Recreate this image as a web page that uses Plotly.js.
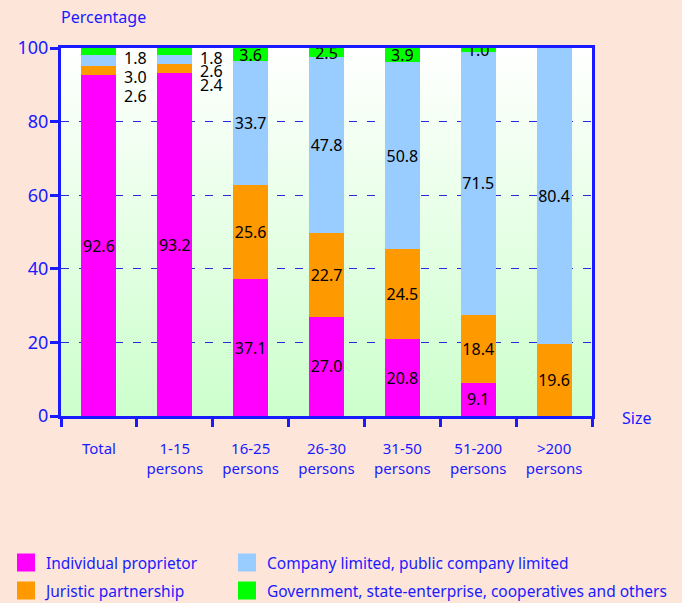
<!DOCTYPE html>
<html>
<head>
<meta charset="utf-8">
<script src="https://cdn.plot.ly/plotly-3.0.1.min.js"></script>
<style>html,body{margin:0;padding:0;background:#fde5da;}</style>
</head>
<body>
<div id="chart" style="width:682px;height:603px;"></div>
<script>
// ---- data ----
const categories = ['Total', '1-15<br>persons', '16-25<br>persons', '26-30<br>persons', '31-50<br>persons', '51-200<br>persons', '>200<br>persons'];
const individual = [92.6, 93.2, 37.1, 27.0, 20.8, 9.1, 0];
const juristic   = [2.6, 2.4, 25.6, 22.7, 24.5, 18.4, 19.6];
const company    = [3.0, 2.6, 33.7, 47.8, 50.8, 71.5, 80.4];
const government = [1.8, 1.8, 3.6, 2.5, 3.9, 1.0, 0];
const seriesNames = ['Individual proprietor', 'Juristic partnership', 'Company limited, public company limited', 'Government, state-enterprise, cooperatives and others'];
const yTicks = [0, 20, 40, 60, 80, 100];
// categories whose small segments are labelled beside the bar
const sideLabelCats = [0, 1];

const colors = ['#ff00ff', '#ff9900', '#99ccff', '#00ff00'];
const blue = '#1a1aff';
const font = 'Noto Sans, DejaVu Sans, sans-serif';

function labels(vals, small) {
  return vals.map((v, i) => (v === 0 || (small && sideLabelCats.includes(i))) ? '' : v.toFixed(1));
}

const seriesVals = [individual, juristic, company, government];
const legendIds = ['legend', 'legend3', 'legend2', 'legend4'];
const traces = seriesVals.map((vals, k) => ({
  type: 'bar',
  name: seriesNames[k],
  x: categories,
  y: vals,
  width: 0.46,
  marker: {color: colors[k], line: {width: 0}},
  text: labels(vals, k !== 0),
  textposition: 'inside',
  insidetextanchor: 'middle',
  constraintext: 'none',
  textangle: 0,
  textfont: {family: font, size: 16, color: '#000000'},
  hoverinfo: 'none',
  showlegend: false
}));
// legend entries (square swatches, no data drawn)
seriesNames.forEach((nm, k) => {
  traces.push({
    type: 'scatter', mode: 'markers', name: nm,
    x: [null], y: [null],
    marker: {symbol: 'square', size: 16, color: colors[k], line: {width: 2, color: colors[k]}},
    hoverinfo: 'none', showlegend: true, legend: legendIds[k]
  });
});

// side labels for small segments (top to bottom: government, company, juristic)
const annotations = [];
const sideShifts = {0: [-10, -29, -48], 1: [-10, -23, -37]};
sideLabelCats.forEach(ci => {
  [government, company, juristic].forEach((arr, j) => {
    annotations.push({
      x: ci + 0.5, y: 100, xref: 'x', yref: 'y',
      text: arr[ci].toFixed(1), showarrow: false,
      yshift: sideShifts[ci][j], xshift: -1,
      font: {family: font, size: 16, color: '#000000'}
    });
  });
});
annotations.push({
  text: 'Percentage', xref: 'paper', yref: 'paper', x: -0.004, y: 1.084,
  xanchor: 'left', yanchor: 'middle', showarrow: false,
  font: {family: font, size: 16, color: blue}
});
annotations.push({
  text: 'Size', xref: 'paper', yref: 'paper', x: 1.052, y: -0.005,
  xanchor: 'left', yanchor: 'middle', showarrow: false,
  font: {family: font, size: 16, color: blue}
});

const grad = "<svg xmlns='http://www.w3.org/2000/svg' width='10' height='100' preserveAspectRatio='none'><defs><linearGradient id='g' x1='0' y1='0' x2='0' y2='1'><stop offset='0' stop-color='#ffffff'/><stop offset='1' stop-color='#ccffcc'/></linearGradient></defs><rect width='10' height='100' fill='url(#g)'/></svg>";

const PL = 61, PW = 531, PB = 416, PH = 368;
function px2x(p) { return (p - PL) / PW; }
function px2y(p) { return (PB - p) / PH; }
function legendAt(xp, yp) {
  return {
    orientation: 'v', x: px2x(xp), xanchor: 'left', y: px2y(yp), yanchor: 'middle',
    bgcolor: 'rgba(0,0,0,0)', borderwidth: 0,
    font: {family: font, size: 15.5, color: blue}
  };
}

const layout = {
  width: 682, height: 603,
  margin: {l: PL, r: 682 - PL - PW, t: 48, b: 603 - PB, autoexpand: false},
  paper_bgcolor: '#fde5da',
  plot_bgcolor: 'rgba(0,0,0,0)',
  barmode: 'stack',
  font: {family: font, color: blue},
  images: [{
    source: 'data:image/svg+xml;charset=utf-8,' + encodeURIComponent(grad),
    xref: 'paper', yref: 'paper', x: 0, y: 1, sizex: 1, sizey: 1,
    xanchor: 'left', yanchor: 'top', sizing: 'stretch', layer: 'below'
  }],
  xaxis: {
    type: 'category',
    tickson: 'boundaries',
    ticks: 'outside', ticklen: 8, tickwidth: 3, tickcolor: blue,
    showline: true, linecolor: blue, linewidth: 3, mirror: true,
    showgrid: false, zeroline: false,
    tickfont: {family: font, size: 15, color: blue},
    ticklabelstandoff: 17,
    fixedrange: true
  },
  yaxis: {
    range: [0, 100],
    tickvals: yTicks,
    ticks: 'outside', ticklen: 8, tickwidth: 3, tickcolor: blue,
    showline: true, linecolor: blue, linewidth: 3, mirror: true,
    showgrid: true, gridcolor: '#2a2ae0', gridwidth: 1, griddash: '8px,10px',
    zeroline: false,
    tickfont: {family: font, size: 18, color: blue},
    ticklabelstandoff: -2,
    fixedrange: true
  },
  legend: legendAt(6, 563),
  legend2: legendAt(227, 563),
  legend3: legendAt(6, 591),
  legend4: legendAt(227, 591),
  annotations: annotations,
  showlegend: true
};

Plotly.newPlot('chart', traces, layout, {displayModeBar: false, staticPlot: true});
</script>
</body>
</html>
